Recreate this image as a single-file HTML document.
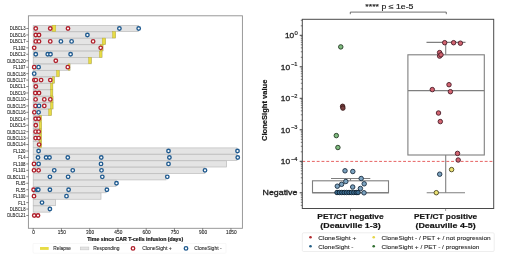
<!DOCTYPE html>
<html><head><meta charset="utf-8"><style>
html,body{margin:0;padding:0;background:#fff;}
body{width:520px;height:260px;overflow:hidden;}
svg{display:block;font-family:"Liberation Sans", sans-serif;will-change:transform;filter:blur(0.35px);}
text{stroke:#222;stroke-width:0.18px;}
.lt{stroke:#2a2a2a;stroke-width:0.1px;}
.hv{stroke:#222;stroke-width:0.3px;}
.nb{stroke:none;}
</style></head><body>
<svg width="520" height="260" viewBox="0 0 520 260">
<rect width="520" height="260" fill="#fff"/>
<rect x="33.20" y="25.40" width="105.30" height="6.20" fill="#e4e4e4" stroke="#bcbcbc" stroke-width="0.7"/>
<rect x="33.20" y="31.85" width="82.30" height="6.20" fill="#e4e4e4" stroke="#bcbcbc" stroke-width="0.7"/>
<rect x="33.20" y="38.30" width="72.30" height="6.20" fill="#e4e4e4" stroke="#bcbcbc" stroke-width="0.7"/>
<rect x="33.20" y="44.74" width="69.80" height="6.20" fill="#e4e4e4" stroke="#bcbcbc" stroke-width="0.7"/>
<rect x="33.20" y="51.19" width="68.80" height="6.20" fill="#e4e4e4" stroke="#bcbcbc" stroke-width="0.7"/>
<rect x="33.20" y="57.64" width="58.10" height="6.20" fill="#e4e4e4" stroke="#bcbcbc" stroke-width="0.7"/>
<rect x="33.20" y="64.09" width="36.80" height="6.20" fill="#e4e4e4" stroke="#bcbcbc" stroke-width="0.7"/>
<rect x="33.20" y="70.54" width="26.00" height="6.20" fill="#e4e4e4" stroke="#bcbcbc" stroke-width="0.7"/>
<rect x="33.20" y="76.98" width="21.10" height="6.20" fill="#e4e4e4" stroke="#bcbcbc" stroke-width="0.7"/>
<rect x="33.20" y="83.43" width="19.60" height="6.20" fill="#e4e4e4" stroke="#bcbcbc" stroke-width="0.7"/>
<rect x="33.20" y="89.88" width="19.60" height="6.20" fill="#e4e4e4" stroke="#bcbcbc" stroke-width="0.7"/>
<rect x="33.20" y="96.33" width="19.80" height="6.20" fill="#e4e4e4" stroke="#bcbcbc" stroke-width="0.7"/>
<rect x="33.20" y="102.78" width="19.80" height="6.20" fill="#e4e4e4" stroke="#bcbcbc" stroke-width="0.7"/>
<rect x="33.20" y="109.22" width="18.30" height="6.20" fill="#e4e4e4" stroke="#bcbcbc" stroke-width="0.7"/>
<rect x="33.20" y="115.67" width="8.40" height="6.20" fill="#e4e4e4" stroke="#bcbcbc" stroke-width="0.7"/>
<rect x="33.20" y="122.12" width="8.40" height="6.20" fill="#e4e4e4" stroke="#bcbcbc" stroke-width="0.7"/>
<rect x="33.20" y="128.57" width="8.40" height="6.20" fill="#e4e4e4" stroke="#bcbcbc" stroke-width="0.7"/>
<rect x="33.20" y="135.02" width="8.40" height="6.20" fill="#e4e4e4" stroke="#bcbcbc" stroke-width="0.7"/>
<rect x="33.20" y="141.46" width="8.40" height="6.20" fill="#e4e4e4" stroke="#bcbcbc" stroke-width="0.7"/>
<rect x="33.20" y="147.91" width="203.80" height="6.20" fill="#e4e4e4" stroke="#bcbcbc" stroke-width="0.7"/>
<rect x="33.20" y="154.36" width="203.80" height="6.20" fill="#e4e4e4" stroke="#bcbcbc" stroke-width="0.7"/>
<rect x="33.20" y="160.81" width="193.40" height="6.20" fill="#e4e4e4" stroke="#bcbcbc" stroke-width="0.7"/>
<rect x="33.20" y="167.26" width="171.80" height="6.20" fill="#e4e4e4" stroke="#bcbcbc" stroke-width="0.7"/>
<rect x="33.20" y="173.70" width="132.80" height="6.20" fill="#e4e4e4" stroke="#bcbcbc" stroke-width="0.7"/>
<rect x="33.20" y="180.15" width="82.80" height="6.20" fill="#e4e4e4" stroke="#bcbcbc" stroke-width="0.7"/>
<rect x="33.20" y="186.60" width="72.80" height="6.20" fill="#e4e4e4" stroke="#bcbcbc" stroke-width="0.7"/>
<rect x="33.20" y="193.05" width="67.80" height="6.20" fill="#e4e4e4" stroke="#bcbcbc" stroke-width="0.7"/>
<rect x="33.20" y="199.50" width="22.30" height="6.20" fill="#e4e4e4" stroke="#bcbcbc" stroke-width="0.7"/>
<rect x="33.20" y="205.94" width="16.80" height="6.20" fill="#e4e4e4" stroke="#bcbcbc" stroke-width="0.7"/>
<rect x="52.10" y="25.20" width="3.70" height="6.30" fill="#e7dc45" stroke="#b9ad3a" stroke-width="0.45"/>
<rect x="112.50" y="31.65" width="3.00" height="6.30" fill="#e7dc45" stroke="#b9ad3a" stroke-width="0.45"/>
<rect x="102.20" y="38.10" width="3.30" height="6.30" fill="#e7dc45" stroke="#b9ad3a" stroke-width="0.45"/>
<rect x="100.50" y="44.54" width="2.50" height="6.30" fill="#e7dc45" stroke="#b9ad3a" stroke-width="0.45"/>
<rect x="99.40" y="50.99" width="2.60" height="6.30" fill="#e7dc45" stroke="#b9ad3a" stroke-width="0.45"/>
<rect x="88.60" y="57.44" width="2.70" height="6.30" fill="#e7dc45" stroke="#b9ad3a" stroke-width="0.45"/>
<rect x="68.20" y="63.89" width="1.80" height="6.30" fill="#e7dc45" stroke="#b9ad3a" stroke-width="0.45"/>
<rect x="56.50" y="70.34" width="2.70" height="6.30" fill="#e7dc45" stroke="#b9ad3a" stroke-width="0.45"/>
<rect x="52.40" y="76.78" width="1.90" height="6.30" fill="#e7dc45" stroke="#b9ad3a" stroke-width="0.45"/>
<rect x="50.50" y="83.23" width="2.30" height="6.30" fill="#e7dc45" stroke="#b9ad3a" stroke-width="0.45"/>
<rect x="50.50" y="89.68" width="2.30" height="6.30" fill="#e7dc45" stroke="#b9ad3a" stroke-width="0.45"/>
<rect x="50.80" y="96.13" width="2.20" height="6.30" fill="#e7dc45" stroke="#b9ad3a" stroke-width="0.45"/>
<rect x="50.50" y="102.58" width="2.50" height="6.30" fill="#e7dc45" stroke="#b9ad3a" stroke-width="0.45"/>
<rect x="48.60" y="109.02" width="2.90" height="6.30" fill="#e7dc45" stroke="#b9ad3a" stroke-width="0.45"/>
<rect x="39.50" y="115.47" width="2.10" height="6.30" fill="#e7dc45" stroke="#b9ad3a" stroke-width="0.45"/>
<rect x="39.30" y="121.92" width="2.30" height="6.30" fill="#e7dc45" stroke="#b9ad3a" stroke-width="0.45"/>
<rect x="39.50" y="128.37" width="2.10" height="6.30" fill="#e7dc45" stroke="#b9ad3a" stroke-width="0.45"/>
<rect x="39.50" y="134.82" width="2.10" height="6.30" fill="#e7dc45" stroke="#b9ad3a" stroke-width="0.45"/>
<rect x="39.50" y="141.26" width="2.10" height="6.30" fill="#e7dc45" stroke="#b9ad3a" stroke-width="0.45"/>
<circle cx="35.75" cy="28.50" r="1.75" fill="#fff" stroke="#b0202c" stroke-width="1.35"/>
<circle cx="50.25" cy="28.50" r="1.75" fill="#fff" stroke="#b0202c" stroke-width="1.35"/>
<circle cx="68.00" cy="28.50" r="1.75" fill="#fff" stroke="#b0202c" stroke-width="1.35"/>
<circle cx="119.40" cy="28.50" r="1.75" fill="#fff" stroke="#1f5a8f" stroke-width="1.35"/>
<circle cx="138.70" cy="28.50" r="1.75" fill="#fff" stroke="#1f5a8f" stroke-width="1.35"/>
<circle cx="35.75" cy="34.95" r="1.75" fill="#fff" stroke="#b0202c" stroke-width="1.35"/>
<circle cx="39.00" cy="34.95" r="1.75" fill="#fff" stroke="#b0202c" stroke-width="1.35"/>
<circle cx="87.40" cy="34.95" r="1.75" fill="#fff" stroke="#1f5a8f" stroke-width="1.35"/>
<circle cx="35.75" cy="41.40" r="1.75" fill="#fff" stroke="#b0202c" stroke-width="1.35"/>
<circle cx="39.00" cy="41.40" r="1.75" fill="#fff" stroke="#b0202c" stroke-width="1.35"/>
<circle cx="50.25" cy="41.40" r="1.75" fill="#fff" stroke="#b0202c" stroke-width="1.35"/>
<circle cx="93.10" cy="41.40" r="1.75" fill="#fff" stroke="#b0202c" stroke-width="1.35"/>
<circle cx="60.90" cy="41.40" r="1.75" fill="#fff" stroke="#1f5a8f" stroke-width="1.35"/>
<circle cx="71.60" cy="41.40" r="1.75" fill="#fff" stroke="#1f5a8f" stroke-width="1.35"/>
<circle cx="34.20" cy="47.84" r="1.75" fill="#fff" stroke="#b0202c" stroke-width="1.35"/>
<circle cx="100.70" cy="47.84" r="1.75" fill="#fff" stroke="#b0202c" stroke-width="1.35"/>
<circle cx="35.75" cy="54.29" r="1.75" fill="#fff" stroke="#1f5a8f" stroke-width="1.35"/>
<circle cx="47.75" cy="54.29" r="1.75" fill="#fff" stroke="#1f5a8f" stroke-width="1.35"/>
<circle cx="50.50" cy="54.29" r="1.75" fill="#fff" stroke="#1f5a8f" stroke-width="1.35"/>
<circle cx="70.60" cy="54.29" r="1.75" fill="#fff" stroke="#1f5a8f" stroke-width="1.35"/>
<circle cx="55.80" cy="60.74" r="1.75" fill="#fff" stroke="#b0202c" stroke-width="1.35"/>
<circle cx="34.20" cy="67.19" r="1.75" fill="#fff" stroke="#b0202c" stroke-width="1.35"/>
<circle cx="67.80" cy="67.19" r="1.75" fill="#fff" stroke="#b0202c" stroke-width="1.35"/>
<circle cx="38.60" cy="67.19" r="1.75" fill="#fff" stroke="#1f5a8f" stroke-width="1.35"/>
<circle cx="34.20" cy="73.64" r="1.75" fill="#fff" stroke="#1f5a8f" stroke-width="1.35"/>
<circle cx="34.30" cy="80.08" r="1.75" fill="#fff" stroke="#b0202c" stroke-width="1.35"/>
<circle cx="35.80" cy="80.08" r="1.75" fill="#fff" stroke="#b0202c" stroke-width="1.35"/>
<circle cx="41.10" cy="80.08" r="1.75" fill="#fff" stroke="#b0202c" stroke-width="1.35"/>
<circle cx="50.30" cy="80.08" r="1.75" fill="#fff" stroke="#b0202c" stroke-width="1.35"/>
<circle cx="35.80" cy="86.53" r="1.75" fill="#fff" stroke="#b0202c" stroke-width="1.35"/>
<circle cx="35.30" cy="92.98" r="1.75" fill="#fff" stroke="#b0202c" stroke-width="1.35"/>
<circle cx="39.00" cy="92.98" r="1.75" fill="#fff" stroke="#b0202c" stroke-width="1.35"/>
<circle cx="35.60" cy="99.43" r="1.75" fill="#fff" stroke="#b0202c" stroke-width="1.35"/>
<circle cx="44.30" cy="99.43" r="1.75" fill="#fff" stroke="#b0202c" stroke-width="1.35"/>
<circle cx="50.30" cy="99.43" r="1.75" fill="#fff" stroke="#b0202c" stroke-width="1.35"/>
<circle cx="35.50" cy="105.88" r="1.75" fill="#fff" stroke="#b0202c" stroke-width="1.35"/>
<circle cx="44.30" cy="105.88" r="1.75" fill="#fff" stroke="#b0202c" stroke-width="1.35"/>
<circle cx="39.00" cy="105.88" r="1.75" fill="#fff" stroke="#1f5a8f" stroke-width="1.35"/>
<circle cx="34.30" cy="112.32" r="1.75" fill="#fff" stroke="#b0202c" stroke-width="1.35"/>
<circle cx="38.60" cy="112.32" r="1.75" fill="#fff" stroke="#1f5a8f" stroke-width="1.35"/>
<circle cx="35.60" cy="118.77" r="1.75" fill="#fff" stroke="#b0202c" stroke-width="1.35"/>
<circle cx="38.70" cy="118.77" r="1.75" fill="#fff" stroke="#b0202c" stroke-width="1.35"/>
<circle cx="35.80" cy="125.22" r="1.75" fill="#fff" stroke="#b0202c" stroke-width="1.35"/>
<circle cx="35.60" cy="131.67" r="1.75" fill="#fff" stroke="#b0202c" stroke-width="1.35"/>
<circle cx="38.70" cy="131.67" r="1.75" fill="#fff" stroke="#b0202c" stroke-width="1.35"/>
<circle cx="35.60" cy="138.12" r="1.75" fill="#fff" stroke="#b0202c" stroke-width="1.35"/>
<circle cx="38.70" cy="138.12" r="1.75" fill="#fff" stroke="#b0202c" stroke-width="1.35"/>
<circle cx="39.10" cy="144.56" r="1.75" fill="#fff" stroke="#b0202c" stroke-width="1.35"/>
<circle cx="38.60" cy="151.01" r="1.75" fill="#fff" stroke="#1f5a8f" stroke-width="1.35"/>
<circle cx="168.50" cy="151.01" r="1.75" fill="#fff" stroke="#1f5a8f" stroke-width="1.35"/>
<circle cx="237.50" cy="151.01" r="1.75" fill="#fff" stroke="#1f5a8f" stroke-width="1.35"/>
<circle cx="38.00" cy="157.46" r="1.75" fill="#fff" stroke="#1f5a8f" stroke-width="1.35"/>
<circle cx="46.10" cy="157.46" r="1.75" fill="#fff" stroke="#1f5a8f" stroke-width="1.35"/>
<circle cx="49.50" cy="157.46" r="1.75" fill="#fff" stroke="#1f5a8f" stroke-width="1.35"/>
<circle cx="67.80" cy="157.46" r="1.75" fill="#fff" stroke="#1f5a8f" stroke-width="1.35"/>
<circle cx="101.25" cy="157.46" r="1.75" fill="#fff" stroke="#1f5a8f" stroke-width="1.35"/>
<circle cx="169.40" cy="157.46" r="1.75" fill="#fff" stroke="#1f5a8f" stroke-width="1.35"/>
<circle cx="237.75" cy="157.46" r="1.75" fill="#fff" stroke="#1f5a8f" stroke-width="1.35"/>
<circle cx="34.00" cy="163.91" r="1.75" fill="#fff" stroke="#b0202c" stroke-width="1.35"/>
<circle cx="38.60" cy="163.91" r="1.75" fill="#fff" stroke="#1f5a8f" stroke-width="1.35"/>
<circle cx="101.00" cy="163.91" r="1.75" fill="#fff" stroke="#1f5a8f" stroke-width="1.35"/>
<circle cx="168.50" cy="163.91" r="1.75" fill="#fff" stroke="#1f5a8f" stroke-width="1.35"/>
<circle cx="34.00" cy="170.36" r="1.75" fill="#fff" stroke="#b0202c" stroke-width="1.35"/>
<circle cx="38.60" cy="170.36" r="1.75" fill="#fff" stroke="#b0202c" stroke-width="1.35"/>
<circle cx="54.25" cy="170.36" r="1.75" fill="#fff" stroke="#1f5a8f" stroke-width="1.35"/>
<circle cx="72.75" cy="170.36" r="1.75" fill="#fff" stroke="#1f5a8f" stroke-width="1.35"/>
<circle cx="101.50" cy="170.36" r="1.75" fill="#fff" stroke="#1f5a8f" stroke-width="1.35"/>
<circle cx="205.00" cy="170.36" r="1.75" fill="#fff" stroke="#1f5a8f" stroke-width="1.35"/>
<circle cx="49.90" cy="176.80" r="1.75" fill="#fff" stroke="#1f5a8f" stroke-width="1.35"/>
<circle cx="68.10" cy="176.80" r="1.75" fill="#fff" stroke="#1f5a8f" stroke-width="1.35"/>
<circle cx="102.30" cy="176.80" r="1.75" fill="#fff" stroke="#1f5a8f" stroke-width="1.35"/>
<circle cx="167.30" cy="176.80" r="1.75" fill="#fff" stroke="#1f5a8f" stroke-width="1.35"/>
<circle cx="116.50" cy="183.25" r="1.75" fill="#fff" stroke="#1f5a8f" stroke-width="1.35"/>
<circle cx="33.60" cy="189.70" r="1.75" fill="#fff" stroke="#b0202c" stroke-width="1.35"/>
<circle cx="37.00" cy="189.70" r="1.75" fill="#fff" stroke="#1f5a8f" stroke-width="1.35"/>
<circle cx="38.30" cy="189.70" r="1.75" fill="#fff" stroke="#1f5a8f" stroke-width="1.35"/>
<circle cx="49.90" cy="189.70" r="1.75" fill="#fff" stroke="#1f5a8f" stroke-width="1.35"/>
<circle cx="68.60" cy="189.70" r="1.75" fill="#fff" stroke="#1f5a8f" stroke-width="1.35"/>
<circle cx="106.90" cy="189.70" r="1.75" fill="#fff" stroke="#1f5a8f" stroke-width="1.35"/>
<circle cx="34.00" cy="196.15" r="1.75" fill="#fff" stroke="#b0202c" stroke-width="1.35"/>
<circle cx="66.50" cy="196.15" r="1.75" fill="#fff" stroke="#1f5a8f" stroke-width="1.35"/>
<circle cx="42.00" cy="202.60" r="1.75" fill="#fff" stroke="#1f5a8f" stroke-width="1.35"/>
<circle cx="49.90" cy="209.04" r="1.75" fill="#fff" stroke="#1f5a8f" stroke-width="1.35"/>
<circle cx="34.25" cy="215.49" r="1.75" fill="#fff" stroke="#b0202c" stroke-width="1.35"/>
<circle cx="38.00" cy="215.49" r="1.75" fill="#fff" stroke="#b0202c" stroke-width="1.35"/>
<rect x="28.4" y="15.8" width="214.00" height="212.50" fill="none" stroke="#8e8e8e" stroke-width="0.9"/>
<line x1="26.299999999999997" y1="28.50" x2="28.4" y2="28.50" stroke="#555" stroke-width="0.7"/>
<text x="25.50" y="30.40" font-size="4.6" text-anchor="end" class="lt" fill="#2a2a2a" textLength="15.74" lengthAdjust="spacingAndGlyphs">DLBCL3</text>
<line x1="26.299999999999997" y1="34.95" x2="28.4" y2="34.95" stroke="#555" stroke-width="0.7"/>
<text x="25.50" y="36.85" font-size="4.6" text-anchor="end" class="lt" fill="#2a2a2a" textLength="15.74" lengthAdjust="spacingAndGlyphs">DLBCL6</text>
<line x1="26.299999999999997" y1="41.40" x2="28.4" y2="41.40" stroke="#555" stroke-width="0.7"/>
<text x="25.50" y="43.30" font-size="4.6" text-anchor="end" class="lt" fill="#2a2a2a" textLength="15.74" lengthAdjust="spacingAndGlyphs">DLBCL7</text>
<line x1="26.299999999999997" y1="47.84" x2="28.4" y2="47.84" stroke="#555" stroke-width="0.7"/>
<text x="25.50" y="49.74" font-size="4.6" text-anchor="end" class="lt" fill="#2a2a2a" textLength="12.32" lengthAdjust="spacingAndGlyphs">FL102</text>
<line x1="26.299999999999997" y1="54.29" x2="28.4" y2="54.29" stroke="#555" stroke-width="0.7"/>
<text x="25.50" y="56.19" font-size="4.6" text-anchor="end" class="lt" fill="#2a2a2a" textLength="15.74" lengthAdjust="spacingAndGlyphs">DLBCL2</text>
<line x1="26.299999999999997" y1="60.74" x2="28.4" y2="60.74" stroke="#555" stroke-width="0.7"/>
<text x="25.50" y="62.64" font-size="4.6" text-anchor="end" class="lt" fill="#2a2a2a" textLength="18.32" lengthAdjust="spacingAndGlyphs">DLBCL20</text>
<line x1="26.299999999999997" y1="67.19" x2="28.4" y2="67.19" stroke="#555" stroke-width="0.7"/>
<text x="25.50" y="69.09" font-size="4.6" text-anchor="end" class="lt" fill="#2a2a2a" textLength="12.32" lengthAdjust="spacingAndGlyphs">FL107</text>
<line x1="26.299999999999997" y1="73.64" x2="28.4" y2="73.64" stroke="#555" stroke-width="0.7"/>
<text x="25.50" y="75.54" font-size="4.6" text-anchor="end" class="lt" fill="#2a2a2a" textLength="18.32" lengthAdjust="spacingAndGlyphs">DLBCL18</text>
<line x1="26.299999999999997" y1="80.08" x2="28.4" y2="80.08" stroke="#555" stroke-width="0.7"/>
<text x="25.50" y="81.98" font-size="4.6" text-anchor="end" class="lt" fill="#2a2a2a" textLength="18.32" lengthAdjust="spacingAndGlyphs">DLBCL17</text>
<line x1="26.299999999999997" y1="86.53" x2="28.4" y2="86.53" stroke="#555" stroke-width="0.7"/>
<text x="25.50" y="88.43" font-size="4.6" text-anchor="end" class="lt" fill="#2a2a2a" textLength="15.74" lengthAdjust="spacingAndGlyphs">DLBCL1</text>
<line x1="26.299999999999997" y1="92.98" x2="28.4" y2="92.98" stroke="#555" stroke-width="0.7"/>
<text x="25.50" y="94.88" font-size="4.6" text-anchor="end" class="lt" fill="#2a2a2a" textLength="15.74" lengthAdjust="spacingAndGlyphs">DLBCL9</text>
<line x1="26.299999999999997" y1="99.43" x2="28.4" y2="99.43" stroke="#555" stroke-width="0.7"/>
<text x="25.50" y="101.33" font-size="4.6" text-anchor="end" class="lt" fill="#2a2a2a" textLength="18.32" lengthAdjust="spacingAndGlyphs">DLBCL10</text>
<line x1="26.299999999999997" y1="105.88" x2="28.4" y2="105.88" stroke="#555" stroke-width="0.7"/>
<text x="25.50" y="107.78" font-size="4.6" text-anchor="end" class="lt" fill="#2a2a2a" textLength="18.32" lengthAdjust="spacingAndGlyphs">DLBCL15</text>
<line x1="26.299999999999997" y1="112.32" x2="28.4" y2="112.32" stroke="#555" stroke-width="0.7"/>
<text x="25.50" y="114.22" font-size="4.6" text-anchor="end" class="lt" fill="#2a2a2a" textLength="18.32" lengthAdjust="spacingAndGlyphs">DLBCL16</text>
<line x1="26.299999999999997" y1="118.77" x2="28.4" y2="118.77" stroke="#555" stroke-width="0.7"/>
<text x="25.50" y="120.67" font-size="4.6" text-anchor="end" class="lt" fill="#2a2a2a" textLength="15.74" lengthAdjust="spacingAndGlyphs">DLBCL4</text>
<line x1="26.299999999999997" y1="125.22" x2="28.4" y2="125.22" stroke="#555" stroke-width="0.7"/>
<text x="25.50" y="127.12" font-size="4.6" text-anchor="end" class="lt" fill="#2a2a2a" textLength="15.74" lengthAdjust="spacingAndGlyphs">DLBCL5</text>
<line x1="26.299999999999997" y1="131.67" x2="28.4" y2="131.67" stroke="#555" stroke-width="0.7"/>
<text x="25.50" y="133.57" font-size="4.6" text-anchor="end" class="lt" fill="#2a2a2a" textLength="18.32" lengthAdjust="spacingAndGlyphs">DLBCL12</text>
<line x1="26.299999999999997" y1="138.12" x2="28.4" y2="138.12" stroke="#555" stroke-width="0.7"/>
<text x="25.50" y="140.02" font-size="4.6" text-anchor="end" class="lt" fill="#2a2a2a" textLength="18.32" lengthAdjust="spacingAndGlyphs">DLBCL13</text>
<line x1="26.299999999999997" y1="144.56" x2="28.4" y2="144.56" stroke="#555" stroke-width="0.7"/>
<text x="25.50" y="146.46" font-size="4.6" text-anchor="end" class="lt" fill="#2a2a2a" textLength="18.32" lengthAdjust="spacingAndGlyphs">DLBCL14</text>
<line x1="26.299999999999997" y1="151.01" x2="28.4" y2="151.01" stroke="#555" stroke-width="0.7"/>
<text x="25.50" y="152.91" font-size="4.6" text-anchor="end" class="lt" fill="#2a2a2a" textLength="12.32" lengthAdjust="spacingAndGlyphs">FL120</text>
<line x1="26.299999999999997" y1="157.46" x2="28.4" y2="157.46" stroke="#555" stroke-width="0.7"/>
<text x="25.50" y="159.36" font-size="4.6" text-anchor="end" class="lt" fill="#2a2a2a" textLength="7.16" lengthAdjust="spacingAndGlyphs">FL4</text>
<line x1="26.299999999999997" y1="163.91" x2="28.4" y2="163.91" stroke="#555" stroke-width="0.7"/>
<text x="25.50" y="165.81" font-size="4.6" text-anchor="end" class="lt" fill="#2a2a2a" textLength="12.32" lengthAdjust="spacingAndGlyphs">FL108</text>
<line x1="26.299999999999997" y1="170.36" x2="28.4" y2="170.36" stroke="#555" stroke-width="0.7"/>
<text x="25.50" y="172.26" font-size="4.6" text-anchor="end" class="lt" fill="#2a2a2a" textLength="12.32" lengthAdjust="spacingAndGlyphs">FL101</text>
<line x1="26.299999999999997" y1="176.80" x2="28.4" y2="176.80" stroke="#555" stroke-width="0.7"/>
<text x="25.50" y="178.70" font-size="4.6" text-anchor="end" class="lt" fill="#2a2a2a" textLength="18.32" lengthAdjust="spacingAndGlyphs">DLBCL11</text>
<line x1="26.299999999999997" y1="183.25" x2="28.4" y2="183.25" stroke="#555" stroke-width="0.7"/>
<text x="25.50" y="185.15" font-size="4.6" text-anchor="end" class="lt" fill="#2a2a2a" textLength="9.74" lengthAdjust="spacingAndGlyphs">FL65</text>
<line x1="26.299999999999997" y1="189.70" x2="28.4" y2="189.70" stroke="#555" stroke-width="0.7"/>
<text x="25.50" y="191.60" font-size="4.6" text-anchor="end" class="lt" fill="#2a2a2a" textLength="9.74" lengthAdjust="spacingAndGlyphs">FL55</text>
<line x1="26.299999999999997" y1="196.15" x2="28.4" y2="196.15" stroke="#555" stroke-width="0.7"/>
<text x="25.50" y="198.05" font-size="4.6" text-anchor="end" class="lt" fill="#2a2a2a" textLength="12.32" lengthAdjust="spacingAndGlyphs">FL100</text>
<line x1="26.299999999999997" y1="202.60" x2="28.4" y2="202.60" stroke="#555" stroke-width="0.7"/>
<text x="25.50" y="204.50" font-size="4.6" text-anchor="end" class="lt" fill="#2a2a2a" textLength="7.16" lengthAdjust="spacingAndGlyphs">FL1</text>
<line x1="26.299999999999997" y1="209.04" x2="28.4" y2="209.04" stroke="#555" stroke-width="0.7"/>
<text x="25.50" y="210.94" font-size="4.6" text-anchor="end" class="lt" fill="#2a2a2a" textLength="15.74" lengthAdjust="spacingAndGlyphs">DLBCL8</text>
<line x1="26.299999999999997" y1="215.49" x2="28.4" y2="215.49" stroke="#555" stroke-width="0.7"/>
<text x="25.50" y="217.39" font-size="4.6" text-anchor="end" class="lt" fill="#2a2a2a" textLength="18.32" lengthAdjust="spacingAndGlyphs">DLBCL21</text>
<line x1="33.20" y1="228.3" x2="33.20" y2="230.5" stroke="#555" stroke-width="0.7"/>
<text x="33.60" y="234.40" font-size="4.65" text-anchor="middle" class="lt" fill="#222" textLength="2.64" lengthAdjust="spacingAndGlyphs">0</text>
<line x1="61.45" y1="228.3" x2="61.45" y2="230.5" stroke="#555" stroke-width="0.7"/>
<text x="61.85" y="234.40" font-size="4.65" text-anchor="middle" class="lt" fill="#222" textLength="7.92" lengthAdjust="spacingAndGlyphs">150</text>
<line x1="89.70" y1="228.3" x2="89.70" y2="230.5" stroke="#555" stroke-width="0.7"/>
<text x="90.10" y="234.40" font-size="4.65" text-anchor="middle" class="lt" fill="#222" textLength="7.92" lengthAdjust="spacingAndGlyphs">300</text>
<line x1="117.95" y1="228.3" x2="117.95" y2="230.5" stroke="#555" stroke-width="0.7"/>
<text x="118.35" y="234.40" font-size="4.65" text-anchor="middle" class="lt" fill="#222" textLength="7.92" lengthAdjust="spacingAndGlyphs">450</text>
<line x1="146.20" y1="228.3" x2="146.20" y2="230.5" stroke="#555" stroke-width="0.7"/>
<text x="146.60" y="234.40" font-size="4.65" text-anchor="middle" class="lt" fill="#222" textLength="7.92" lengthAdjust="spacingAndGlyphs">600</text>
<line x1="174.45" y1="228.3" x2="174.45" y2="230.5" stroke="#555" stroke-width="0.7"/>
<text x="174.85" y="234.40" font-size="4.65" text-anchor="middle" class="lt" fill="#222" textLength="7.92" lengthAdjust="spacingAndGlyphs">750</text>
<line x1="202.70" y1="228.3" x2="202.70" y2="230.5" stroke="#555" stroke-width="0.7"/>
<text x="203.10" y="234.40" font-size="4.65" text-anchor="middle" class="lt" fill="#222" textLength="7.92" lengthAdjust="spacingAndGlyphs">900</text>
<line x1="230.95" y1="228.3" x2="230.95" y2="230.5" stroke="#555" stroke-width="0.7"/>
<text x="231.35" y="234.40" font-size="4.65" text-anchor="middle" class="lt" fill="#222" textLength="10.56" lengthAdjust="spacingAndGlyphs">1050</text>
<text x="87.20" y="240.60" font-size="4.6" font-weight="bold" fill="#111" textLength="96.00" lengthAdjust="spacingAndGlyphs">Time since CAR T-cells infusion (days)</text>
<rect x="33" y="243.4" width="193" height="9.8" rx="1" fill="#fff" stroke="#efefef" stroke-width="0.5"/>
<rect x="40" y="247" width="8.7" height="2.9" fill="#e7dc45"/>
<text x="53.30" y="250.30" font-size="4.6" class="lt" fill="#333" textLength="17.67" lengthAdjust="spacingAndGlyphs">Relapse</text>
<rect x="80.2" y="247" width="8.7" height="2.9" fill="#e4e4e4" stroke="#bcbcbc" stroke-width="0.4"/>
<text x="93.20" y="250.30" font-size="4.6" class="lt" fill="#333" textLength="26.31" lengthAdjust="spacingAndGlyphs">Responding</text>
<circle cx="133" cy="248.4" r="1.75" fill="#fff" stroke="#b0202c" stroke-width="1.35"/>
<text x="142.20" y="250.30" font-size="4.6" class="lt" fill="#333" textLength="29.55" lengthAdjust="spacingAndGlyphs">CloneSight +</text>
<circle cx="186" cy="248.4" r="1.75" fill="#fff" stroke="#1f5a8f" stroke-width="1.35"/>
<text x="194.20" y="250.30" font-size="4.6" class="lt" fill="#333" textLength="27.40" lengthAdjust="spacingAndGlyphs">CloneSight -</text>
<line x1="302.3" y1="161.4" x2="493.7" y2="161.4" stroke="#e03a3a" stroke-width="0.8" stroke-dasharray="2.9,1.9"/>
<rect x="312.5" y="180.8" width="76" height="12" fill="#fff" stroke="#7f7f7f" stroke-width="1.1"/>
<line x1="350.5" y1="178.5" x2="350.5" y2="180.8" stroke="#7f7f7f" stroke-width="1.1"/>
<line x1="331" y1="178.5" x2="370.3" y2="178.5" stroke="#7f7f7f" stroke-width="1.1"/>
<line x1="312.5" y1="192.6" x2="388.5" y2="192.6" stroke="#7f7f7f" stroke-width="1.1"/>
<rect x="407.9" y="54.8" width="76.4" height="100.2" fill="#fff" stroke="#7f7f7f" stroke-width="1.1"/>
<line x1="408" y1="90.6" x2="484.3" y2="90.6" stroke="#7f7f7f" stroke-width="1.1"/>
<line x1="445.7" y1="42.4" x2="445.7" y2="54.8" stroke="#7f7f7f" stroke-width="1.1"/>
<line x1="426.5" y1="42.4" x2="465.5" y2="42.4" stroke="#7f7f7f" stroke-width="1.1"/>
<line x1="445.7" y1="155.0" x2="445.7" y2="192.8" stroke="#7f7f7f" stroke-width="1.1"/>
<line x1="426.7" y1="192.8" x2="465" y2="192.8" stroke="#7f7f7f" stroke-width="1.1"/>
<circle cx="340.75" cy="46.9" r="2.25" fill="#7fbb7f" stroke="#243a24" stroke-width="0.9"/>
<circle cx="342.6" cy="106.3" r="2.25" fill="#7a4040" stroke="#3a1a1a" stroke-width="0.9"/>
<circle cx="342.9" cy="108.1" r="2.25" fill="#7a4040" stroke="#3a1a1a" stroke-width="0.9"/>
<circle cx="336.3" cy="135.6" r="2.25" fill="#7fbb7f" stroke="#243a24" stroke-width="0.9"/>
<circle cx="337.9" cy="147.5" r="2.25" fill="#7fbb7f" stroke="#243a24" stroke-width="0.9"/>
<circle cx="345.0" cy="170.8" r="2.25" fill="#7ca3c0" stroke="#1a2d40" stroke-width="0.9"/>
<circle cx="352.8" cy="171.5" r="2.25" fill="#7ca3c0" stroke="#1a2d40" stroke-width="0.9"/>
<circle cx="361.2" cy="178.5" r="2.25" fill="#7ca3c0" stroke="#1a2d40" stroke-width="0.9"/>
<circle cx="345.8" cy="181.5" r="2.25" fill="#7ca3c0" stroke="#1a2d40" stroke-width="0.9"/>
<circle cx="341.6" cy="184.3" r="2.25" fill="#7ca3c0" stroke="#1a2d40" stroke-width="0.9"/>
<circle cx="337.3" cy="186.2" r="2.25" fill="#7ca3c0" stroke="#1a2d40" stroke-width="0.9"/>
<circle cx="364.2" cy="183.8" r="2.25" fill="#7ca3c0" stroke="#1a2d40" stroke-width="0.9"/>
<circle cx="352.7" cy="187.0" r="2.25" fill="#7ca3c0" stroke="#1a2d40" stroke-width="0.9"/>
<circle cx="360.4" cy="188.5" r="2.25" fill="#7ca3c0" stroke="#1a2d40" stroke-width="0.9"/>
<circle cx="337.0" cy="192.5" r="2.25" fill="#3d6c90" stroke="#0c1f2e" stroke-width="0.9"/>
<circle cx="339.4" cy="192.5" r="2.25" fill="#3d6c90" stroke="#0c1f2e" stroke-width="0.9"/>
<circle cx="341.8" cy="192.5" r="2.25" fill="#3d6c90" stroke="#0c1f2e" stroke-width="0.9"/>
<circle cx="344.2" cy="192.5" r="2.25" fill="#3d6c90" stroke="#0c1f2e" stroke-width="0.9"/>
<circle cx="346.6" cy="192.5" r="2.25" fill="#3d6c90" stroke="#0c1f2e" stroke-width="0.9"/>
<circle cx="349.0" cy="192.5" r="2.25" fill="#3d6c90" stroke="#0c1f2e" stroke-width="0.9"/>
<circle cx="351.4" cy="192.5" r="2.25" fill="#3d6c90" stroke="#0c1f2e" stroke-width="0.9"/>
<circle cx="353.8" cy="192.5" r="2.25" fill="#3d6c90" stroke="#0c1f2e" stroke-width="0.9"/>
<circle cx="356.2" cy="192.5" r="2.25" fill="#3d6c90" stroke="#0c1f2e" stroke-width="0.9"/>
<circle cx="358.0" cy="192.5" r="2.25" fill="#3d6c90" stroke="#0c1f2e" stroke-width="0.9"/>
<circle cx="364.0" cy="192.8" r="2.25" fill="#7ca3c0" stroke="#1a2d40" stroke-width="0.9"/>
<circle cx="444.7" cy="42.7" r="2.25" fill="#d26470" stroke="#4a1c28" stroke-width="0.9"/>
<circle cx="453.6" cy="42.7" r="2.25" fill="#d26470" stroke="#4a1c28" stroke-width="0.9"/>
<circle cx="460.4" cy="43.2" r="2.25" fill="#d26470" stroke="#4a1c28" stroke-width="0.9"/>
<circle cx="439.6" cy="52.6" r="2.25" fill="#d26470" stroke="#4a1c28" stroke-width="0.9"/>
<circle cx="439.6" cy="56.1" r="2.25" fill="#d26470" stroke="#4a1c28" stroke-width="0.9"/>
<circle cx="441.0" cy="54.8" r="2.25" fill="#d26470" stroke="#4a1c28" stroke-width="0.9"/>
<circle cx="432.3" cy="89.6" r="2.25" fill="#d26470" stroke="#4a1c28" stroke-width="0.9"/>
<circle cx="449.0" cy="84.7" r="2.25" fill="#d26470" stroke="#4a1c28" stroke-width="0.9"/>
<circle cx="450.4" cy="91.7" r="2.25" fill="#d26470" stroke="#4a1c28" stroke-width="0.9"/>
<circle cx="438.5" cy="113.0" r="2.25" fill="#d26470" stroke="#4a1c28" stroke-width="0.9"/>
<circle cx="440.3" cy="121.6" r="2.25" fill="#d26470" stroke="#4a1c28" stroke-width="0.9"/>
<circle cx="457.5" cy="153.4" r="2.25" fill="#d26470" stroke="#4a1c28" stroke-width="0.9"/>
<circle cx="458.2" cy="160.0" r="2.25" fill="#d26470" stroke="#4a1c28" stroke-width="0.9"/>
<circle cx="451.6" cy="169.6" r="2.25" fill="#ebe274" stroke="#4c4720" stroke-width="0.9"/>
<circle cx="439.7" cy="174.2" r="2.25" fill="#7ca3c0" stroke="#1a2d40" stroke-width="0.9"/>
<circle cx="436.3" cy="192.7" r="2.25" fill="#ebe274" stroke="#4c4720" stroke-width="0.9"/>
<rect x="302.3" y="19.3" width="191.40" height="189.20" fill="none" stroke="#4a4a4a" stroke-width="1.0"/>
<line x1="299.7" y1="35.30" x2="302.3" y2="35.30" stroke="#333" stroke-width="0.95"/>
<line x1="299.7" y1="66.80" x2="302.3" y2="66.80" stroke="#333" stroke-width="0.95"/>
<line x1="299.7" y1="98.30" x2="302.3" y2="98.30" stroke="#333" stroke-width="0.95"/>
<line x1="299.7" y1="129.80" x2="302.3" y2="129.80" stroke="#333" stroke-width="0.95"/>
<line x1="299.7" y1="161.30" x2="302.3" y2="161.30" stroke="#333" stroke-width="0.95"/>
<line x1="299.7" y1="192.80" x2="302.3" y2="192.80" stroke="#333" stroke-width="0.95"/>
<line x1="300.8" y1="25.82" x2="302.3" y2="25.82" stroke="#444" stroke-width="0.7"/>
<line x1="300.8" y1="20.27" x2="302.3" y2="20.27" stroke="#444" stroke-width="0.7"/>
<line x1="300.8" y1="57.32" x2="302.3" y2="57.32" stroke="#444" stroke-width="0.7"/>
<line x1="300.8" y1="51.77" x2="302.3" y2="51.77" stroke="#444" stroke-width="0.7"/>
<line x1="300.8" y1="47.84" x2="302.3" y2="47.84" stroke="#444" stroke-width="0.7"/>
<line x1="300.8" y1="44.78" x2="302.3" y2="44.78" stroke="#444" stroke-width="0.7"/>
<line x1="300.8" y1="42.29" x2="302.3" y2="42.29" stroke="#444" stroke-width="0.7"/>
<line x1="300.8" y1="40.18" x2="302.3" y2="40.18" stroke="#444" stroke-width="0.7"/>
<line x1="300.8" y1="38.35" x2="302.3" y2="38.35" stroke="#444" stroke-width="0.7"/>
<line x1="300.8" y1="36.74" x2="302.3" y2="36.74" stroke="#444" stroke-width="0.7"/>
<line x1="300.8" y1="88.82" x2="302.3" y2="88.82" stroke="#444" stroke-width="0.7"/>
<line x1="300.8" y1="83.27" x2="302.3" y2="83.27" stroke="#444" stroke-width="0.7"/>
<line x1="300.8" y1="79.34" x2="302.3" y2="79.34" stroke="#444" stroke-width="0.7"/>
<line x1="300.8" y1="76.28" x2="302.3" y2="76.28" stroke="#444" stroke-width="0.7"/>
<line x1="300.8" y1="73.79" x2="302.3" y2="73.79" stroke="#444" stroke-width="0.7"/>
<line x1="300.8" y1="71.68" x2="302.3" y2="71.68" stroke="#444" stroke-width="0.7"/>
<line x1="300.8" y1="69.85" x2="302.3" y2="69.85" stroke="#444" stroke-width="0.7"/>
<line x1="300.8" y1="68.24" x2="302.3" y2="68.24" stroke="#444" stroke-width="0.7"/>
<line x1="300.8" y1="120.32" x2="302.3" y2="120.32" stroke="#444" stroke-width="0.7"/>
<line x1="300.8" y1="114.77" x2="302.3" y2="114.77" stroke="#444" stroke-width="0.7"/>
<line x1="300.8" y1="110.84" x2="302.3" y2="110.84" stroke="#444" stroke-width="0.7"/>
<line x1="300.8" y1="107.78" x2="302.3" y2="107.78" stroke="#444" stroke-width="0.7"/>
<line x1="300.8" y1="105.29" x2="302.3" y2="105.29" stroke="#444" stroke-width="0.7"/>
<line x1="300.8" y1="103.18" x2="302.3" y2="103.18" stroke="#444" stroke-width="0.7"/>
<line x1="300.8" y1="101.35" x2="302.3" y2="101.35" stroke="#444" stroke-width="0.7"/>
<line x1="300.8" y1="99.74" x2="302.3" y2="99.74" stroke="#444" stroke-width="0.7"/>
<line x1="300.8" y1="151.82" x2="302.3" y2="151.82" stroke="#444" stroke-width="0.7"/>
<line x1="300.8" y1="146.27" x2="302.3" y2="146.27" stroke="#444" stroke-width="0.7"/>
<line x1="300.8" y1="142.34" x2="302.3" y2="142.34" stroke="#444" stroke-width="0.7"/>
<line x1="300.8" y1="139.28" x2="302.3" y2="139.28" stroke="#444" stroke-width="0.7"/>
<line x1="300.8" y1="136.79" x2="302.3" y2="136.79" stroke="#444" stroke-width="0.7"/>
<line x1="300.8" y1="134.68" x2="302.3" y2="134.68" stroke="#444" stroke-width="0.7"/>
<line x1="300.8" y1="132.85" x2="302.3" y2="132.85" stroke="#444" stroke-width="0.7"/>
<line x1="300.8" y1="131.24" x2="302.3" y2="131.24" stroke="#444" stroke-width="0.7"/>
<line x1="300.8" y1="183.32" x2="302.3" y2="183.32" stroke="#444" stroke-width="0.7"/>
<line x1="300.8" y1="177.77" x2="302.3" y2="177.77" stroke="#444" stroke-width="0.7"/>
<line x1="300.8" y1="173.84" x2="302.3" y2="173.84" stroke="#444" stroke-width="0.7"/>
<line x1="300.8" y1="170.78" x2="302.3" y2="170.78" stroke="#444" stroke-width="0.7"/>
<line x1="300.8" y1="168.29" x2="302.3" y2="168.29" stroke="#444" stroke-width="0.7"/>
<line x1="300.8" y1="166.18" x2="302.3" y2="166.18" stroke="#444" stroke-width="0.7"/>
<line x1="300.8" y1="164.35" x2="302.3" y2="164.35" stroke="#444" stroke-width="0.7"/>
<line x1="300.8" y1="162.74" x2="302.3" y2="162.74" stroke="#444" stroke-width="0.7"/>
<line x1="300.8" y1="205.34" x2="302.3" y2="205.34" stroke="#444" stroke-width="0.7"/>
<line x1="300.8" y1="202.28" x2="302.3" y2="202.28" stroke="#444" stroke-width="0.7"/>
<line x1="300.8" y1="199.79" x2="302.3" y2="199.79" stroke="#444" stroke-width="0.7"/>
<line x1="300.8" y1="197.68" x2="302.3" y2="197.68" stroke="#444" stroke-width="0.7"/>
<line x1="300.8" y1="195.85" x2="302.3" y2="195.85" stroke="#444" stroke-width="0.7"/>
<line x1="300.8" y1="194.24" x2="302.3" y2="194.24" stroke="#444" stroke-width="0.7"/>
<text x="285.0" y="38.05" font-size="8.1" class="hv" fill="#222" textLength="9.2" lengthAdjust="spacingAndGlyphs">10</text>
<text x="294.6" y="34.90" font-size="5.3" fill="#222" textLength="3.3" lengthAdjust="spacingAndGlyphs">0</text>
<text x="280.8" y="69.55" font-size="8.1" class="hv" fill="#222" textLength="9.3" lengthAdjust="spacingAndGlyphs">10</text>
<text x="291.0" y="66.40" font-size="5.3" fill="#222" textLength="6.5" lengthAdjust="spacingAndGlyphs">−1</text>
<text x="280.8" y="101.05" font-size="8.1" class="hv" fill="#222" textLength="9.3" lengthAdjust="spacingAndGlyphs">10</text>
<text x="291.0" y="97.90" font-size="5.3" fill="#222" textLength="6.5" lengthAdjust="spacingAndGlyphs">−2</text>
<text x="280.8" y="132.55" font-size="8.1" class="hv" fill="#222" textLength="9.3" lengthAdjust="spacingAndGlyphs">10</text>
<text x="291.0" y="129.40" font-size="5.3" fill="#222" textLength="6.5" lengthAdjust="spacingAndGlyphs">−3</text>
<text x="280.8" y="164.05" font-size="8.1" class="hv" fill="#222" textLength="9.3" lengthAdjust="spacingAndGlyphs">10</text>
<text x="291.0" y="160.90" font-size="5.3" fill="#222" textLength="6.5" lengthAdjust="spacingAndGlyphs">−4</text>
<text x="297.40" y="195.40" font-size="7.3" text-anchor="end" class="hv" fill="#222" textLength="34.80" lengthAdjust="spacingAndGlyphs">Negative</text>
<text transform="translate(266.7,110.3) rotate(-90)" x="0" y="0" font-size="6.7" font-weight="bold" text-anchor="middle" fill="#111" textLength="61.5" lengthAdjust="spacingAndGlyphs">CloneSight value</text>
<line x1="350.5" y1="208.5" x2="350.5" y2="210.9" stroke="#555" stroke-width="0.6"/>
<line x1="445.6" y1="208.5" x2="445.6" y2="210.9" stroke="#555" stroke-width="0.6"/>
<text x="350.50" y="219.00" font-size="7.4" text-anchor="middle" font-weight="bold" fill="#111" textLength="66.40" lengthAdjust="spacingAndGlyphs">PET/CT negative</text>
<text x="350.50" y="227.50" font-size="7.4" text-anchor="middle" font-weight="bold" fill="#111" textLength="60.34" lengthAdjust="spacingAndGlyphs">(Deauville 1-3)</text>
<text x="445.60" y="219.00" font-size="7.4" text-anchor="middle" font-weight="bold" fill="#111" textLength="63.21" lengthAdjust="spacingAndGlyphs">PET/CT positive</text>
<text x="445.60" y="227.50" font-size="7.4" text-anchor="middle" font-weight="bold" fill="#111" textLength="60.34" lengthAdjust="spacingAndGlyphs">(Deauville 4-5)</text>
<polyline points="350.3,14.2 350.3,12.1 446.3,12.1 446.3,14.2" fill="none" stroke="#333" stroke-width="0.7"/>
<text x="389.40" y="9.40" font-size="7.0" text-anchor="middle" fill="#222" textLength="48.06" lengthAdjust="spacingAndGlyphs">**** p ≤ 1e-5</text>
<rect x="302.3" y="232.8" width="191.9" height="18.7" rx="1.2" fill="#fff" stroke="#e2e2e2" stroke-width="0.6"/>
<circle cx="310.5" cy="237.3" r="1.3" fill="#b02a2e"/>
<text x="318.20" y="239.55" font-size="6.2" class="lt" fill="#2a2a2a" textLength="38.08" lengthAdjust="spacingAndGlyphs">CloneSight +</text>
<circle cx="310.5" cy="246.3" r="1.3" fill="#245f86"/>
<text x="318.20" y="248.55" font-size="6.2" class="lt" fill="#2a2a2a" textLength="35.32" lengthAdjust="spacingAndGlyphs">CloneSight -</text>
<circle cx="373.7" cy="237.3" r="1.3" fill="#e6d64a"/>
<text x="381.50" y="239.55" font-size="6.2" class="lt" fill="#2a2a2a" textLength="109.22" lengthAdjust="spacingAndGlyphs">CloneSight - / PET + / not progression</text>
<circle cx="373.7" cy="246.3" r="1.3" fill="#2f6e2f"/>
<text x="381.50" y="248.55" font-size="6.2" class="lt" fill="#2a2a2a" textLength="97.88" lengthAdjust="spacingAndGlyphs">CloneSight + / PET - / progression</text>
</svg>
</body></html>
